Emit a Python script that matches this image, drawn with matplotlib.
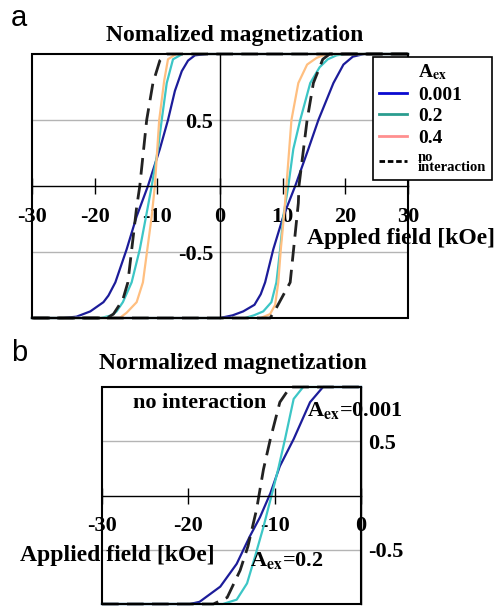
import matplotlib
matplotlib.use('Agg')
import matplotlib.pyplot as plt
from matplotlib.lines import Line2D
from matplotlib.patches import Rectangle

W, H = 497, 606

# ---- panel a: hysteresis loops, descending (dn) and ascending (up) branches
blue_dn_x = [30, -2, -4, -5.1, -6.1, -7.2, -8.3, -9.6, -11.5, -13.3, -14.9, -16.7, -17.8, -18.6, -20.7, -22.9, -25, -30]
blue_dn_y = [1, 1, 0.99, 0.95, 0.87, 0.72, 0.5, 0.28, 0.0, -0.23, -0.48, -0.73, -0.83, -0.88, -0.95, -0.99, -1, -1]
blue_up_x = [-30, 0, 2, 3.7, 5.5, 6.5, 7.2, 8.5, 10.1, 12.0, 14.1, 15.7, 18.1, 19.7, 21.2, 23, 30]
blue_up_y = [-1, -1, -0.98, -0.95, -0.9, -0.82, -0.73, -0.48, -0.23, 0.0, 0.28, 0.5, 0.78, 0.92, 0.98, 1, 1]

teal_dn_x = [30, -6, -7.5, -8.5, -9.3, -9.9, -10.9, -11.8, -12.8, -14.1, -15.5, -16.5, -17.3, -19, -30]
teal_dn_y = [1, 1, 0.96, 0.78, 0.5, 0.28, 0.0, -0.23, -0.48, -0.73, -0.88, -0.95, -0.98, -1, -1]
teal_up_x = [-30, 4, 5.4, 6.9, 8.2, 9.0, 9.6, 10.1, 10.9, 11.7, 12.8, 14.4, 15.9, 17.2, 18.6, 20, 30]
teal_up_y = [-1, -1, -0.98, -0.95, -0.88, -0.73, -0.48, -0.23, 0.0, 0.28, 0.5, 0.78, 0.9, 0.96, 0.99, 1, 1]

orng_dn_x = [30, -7, -8.3, -8.9, -9.7, -10.4, -10.9, -11.6, -12.3, -13.3, -14.9, -16, -30]
orng_dn_y = [1, 1, 0.96, 0.8, 0.5, 0.0, -0.23, -0.48, -0.73, -0.88, -0.96, -1, -1]
orng_up_x = [-30, 6.5, 8.0, 8.8, 9.3, 9.7, 10.2, 10.6, 11.4, 12.5, 13.9, 15.4, 17, 30]
orng_up_y = [-1, -1, -0.97, -0.9, -0.73, -0.48, -0.23, 0.0, 0.5, 0.78, 0.92, 0.97, 1, 1]

noint_dn_x = [30, -8.5, -9.6, -10.7, -11.7, -12.8, -13.3, -14.7, -15.5, -17, -18, -30]
noint_dn_y = [1, 1, 0.95, 0.78, 0.5, 0.0, -0.16, -0.73, -0.86, -0.97, -1, -1]
noint_up_x = [-30, 8, 8.8, 11.2, 12.5, 12.6, 13.9, 14.9, 16.4, 17.5, 30]
noint_up_y = [-1, -1, -0.94, -0.73, -0.13, 0.0, 0.5, 0.78, 0.96, 1, 1]

legend_labels = ['0.001', '0.2', '0.4', 'no\ninteraction']

# ---- panel b: descending branch only
b_noint_x = [-30, -17.1, -15.5, -14.0, -13.1, -12.1, -11.3, -10.5, -9.4, -8.2, 0]
b_noint_y = [-1, -1, -0.94, -0.69, -0.47, -0.13, 0.24, 0.52, 0.86, 1.0, 1]
b_blue_x = [-30, -19.8, -18.7, -16.3, -14.4, -12.9, -11.7, -10.5, -9.4, -7.8, -5.9, -4.4, 0]
b_blue_y = [-1, -1, -0.98, -0.84, -0.63, -0.38, -0.2, 0.02, 0.27, 0.52, 0.86, 1.0, 1]
b_teal_x = [-30, -16, -14.4, -13.2, -12.3, -11.3, -10.3, -9.6, -8.8, -7.8, -6.7, 0]
b_teal_y = [-1, -1, -0.96, -0.81, -0.57, -0.29, 0.02, 0.24, 0.52, 0.89, 1.0, 1]

xticks_a = [-30, -20, -10, 0, 10, 20, 30]
xticks_b = [-30, -20, -10, 0]
yticks = [-0.5, 0.5]

c_blue = '#1c1c9a'
c_teal = '#3cc6c6'
c_orng = '#ffbf80'
dash = (6, 3)

plt.rcParams['font.family'] = ['Liberation Serif', 'DejaVu Serif']
plt.rcParams['font.weight'] = 'bold'
plt.rcParams['mathtext.fontset'] = 'stix'


def px(x, y):
    return x / W, 1 - y / H


def setup(ax, xlim, xticks, yside):
    ax.set_xlim(*xlim)
    ax.set_ylim(-1, 1)
    for s in ['top', 'right', 'left', 'bottom']:
        ax.spines[s].set_visible(False)
    ax.spines['bottom'].set_visible(True)
    ax.spines['bottom'].set_position(('data', 0))
    ax.spines[yside].set_visible(True)
    ax.spines[yside].set_position(('data', 0))
    ax.spines['bottom'].set_linewidth(1.0)
    ax.spines[yside].set_linewidth(1.0)
    ax.add_patch(Rectangle((0, 0), 1, 1, transform=ax.transAxes, fill=False,
                           edgecolor='black', lw=1.5, clip_on=False, zorder=5))
    ax.set_xticks(xticks)
    ax.set_xticklabels([str(t) for t in xticks])
    ax.set_yticks(yticks)
    ax.set_yticklabels([str(t) for t in yticks])
    ax.yaxis.set_ticks_position(yside)
    ax.tick_params(axis='x', direction='inout', length=12, width=1, pad=9, labelsize=16)
    ax.tick_params(axis='y', length=0, pad=5, labelsize=16)
    ax.grid(axis='y', color='#b4b4b4', lw=1)
    ax.set_axisbelow(True)


fig = plt.figure(figsize=(W / 100, H / 100), dpi=100)

# panel a
ax1 = fig.add_axes([32 / W, 1 - 318 / H, 376 / W, 264 / H])
setup(ax1, (-30, 30), xticks_a, 'left')
for xs, ys in [(blue_dn_x, blue_dn_y), (blue_up_x, blue_up_y)]:
    ax1.plot(xs, ys, color=c_blue, lw=1.6, clip_on=False)
for xs, ys in [(teal_dn_x, teal_dn_y), (teal_up_x, teal_up_y)]:
    ax1.plot(xs, ys, color=c_teal, lw=1.6, clip_on=False)
for xs, ys in [(orng_dn_x, orng_dn_y), (orng_up_x, orng_up_y)]:
    ax1.plot(xs, ys, color=c_orng, lw=1.6, clip_on=False)
for xs, ys in [(noint_dn_x, noint_dn_y), (noint_up_x, noint_up_y)]:
    ax1.plot(xs, ys, color='#222222', lw=2, dashes=dash, clip_on=False)

handles = [Line2D([], [], color='#0a0ad0', lw=2),
           Line2D([], [], color='#2a9d8f', lw=2),
           Line2D([], [], color='#ff8f8f', lw=2),
           Line2D([], [], color='black', lw=2, dashes=(2, 1))]
leg = ax1.legend(handles, legend_labels, title=r'A$_{\mathbf{ex}}$',
                 loc='upper left', bbox_to_anchor=(0.907, 0.99), fontsize=14,
                 title_fontsize=14, frameon=True, fancybox=False, framealpha=1,
                 edgecolor='black', borderpad=0.3, labelspacing=0.2,
                 handlelength=1.45, handletextpad=0.55, borderaxespad=0)
leg.get_frame().set_linewidth(1.2)
leg.get_texts()[3].set_fontsize(10.5)
leg.get_texts()[3].set_linespacing(0.75)
leg.set_zorder(10)

ax1.text(13.9, -0.4, 'Appled field [kOe]', fontsize=17, ha='left', va='center')

# panel b
ax2 = fig.add_axes([102 / W, 1 - 604 / H, 259 / W, 217 / H])
setup(ax2, (-30, 0), xticks_b, 'right')
ax2.plot(b_blue_x, b_blue_y, color=c_blue, lw=1.6, clip_on=False)
ax2.plot(b_teal_x, b_teal_y, color=c_teal, lw=1.6, clip_on=False)
ax2.plot(b_noint_x, b_noint_y, color='#222222', lw=2, dashes=dash, clip_on=False)

ax2.text(-26.4, 0.85, 'no interaction', fontsize=16, ha='left', va='center')
ax2.text(-6.3, 0.78, r'A$_{\mathbf{ex}}$=0.001', fontsize=16, ha='left', va='center', clip_on=False)
ax2.text(-12.9, -0.6, r'A$_{\mathbf{ex}}$=0.2', fontsize=16, ha='left', va='center')
ax2.text(-39.5, -0.55, 'Applied field [kOe]', fontsize=17, ha='left', va='center', clip_on=False)

fig.text(*px(235, 35), 'Nomalized magnetization', fontsize=17, ha='center', va='center')
fig.text(*px(233, 363), 'Normalized magnetization', fontsize=17, ha='center', va='center')
fig.text(*px(11, 26), 'a', fontsize=21, family='Liberation Sans', weight='normal', ha='left', va='baseline')
fig.text(*px(11, 361), 'b', fontsize=21, family='Liberation Sans', weight='normal', ha='left', va='baseline')

fig.savefig('out.png', dpi=100)
